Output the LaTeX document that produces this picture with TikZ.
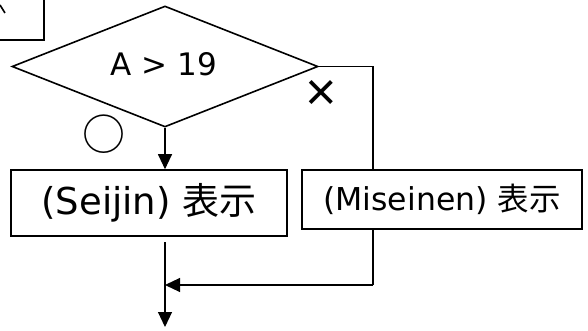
\documentclass[tikz,border=0pt]{standalone}
\usepackage{fontspec}
\setmainfont{DejaVu Sans}
\newfontfamily\jp{Noto Sans CJK JP}
\newfontfamily\lib{Liberation Sans}
\usetikzlibrary{shapes.geometric,arrows.meta}
\begin{document}
\begin{tikzpicture}[x=1pt,y=-1pt,
  box/.style={draw,rectangle,line width=1.6pt,inner sep=0pt},
  dec/.style={draw,diamond,line width=1.6pt,inner sep=0pt,minimum width=306pt,minimum height=121pt},
  conn/.style={line width=1.1pt},
  arr/.style={conn,-{Triangle[length=15pt,width=14pt]}},
  lbl/.style={inner sep=0pt}]
\useasboundingbox (0,0) rectangle (588,331);
% partial box at the top left
\node[box,minimum width=64pt,minimum height=60pt] (prev) at (12,10) {};
\draw[line width=1.6pt] (0,5) -- (5,13);
% decision
\node[dec] (dec) at (165,66.5) {};
\node[lbl,font=\fontsize{31}{34}\selectfont] (cond) at (164,64) {A > 19};
% process boxes
\node[box,minimum width=276pt,minimum height=66pt,font=\fontsize{37}{40}\selectfont] (seijin) at (149,203) {(Seijin) {\jp 表示}};
\node[box,minimum width=280pt,minimum height=59pt,font=\fontsize{31.5}{34}\selectfont] (mis) at (442,199.5) {(Miseinen) {\jp 表示}};
% labels
\node[lbl,font=\jp\fontsize{43}{45}\selectfont] (yes) at (104,134) {○};
\node[lbl,font=\lib\fontsize{54}{56}\selectfont] (no) at (321,95) {×};
% connectors
\coordinate (rc) at (373,66.5);
\coordinate (mb) at (373,285);
\coordinate (join) at (165,285);
\coordinate (sb) at (165,242);
\coordinate (endp) at (165,327);
\draw[arr] (dec.south) -- (dec.south |- seijin.north);
\draw[conn] (dec.east) -- (rc) -- (rc |- mis.north);
\draw[conn] (rc |- mis.south) -- (mb);
\draw[arr] (mb) -- (join);
\draw[arr] (sb) -- (endp);
\end{tikzpicture}
\end{document}
